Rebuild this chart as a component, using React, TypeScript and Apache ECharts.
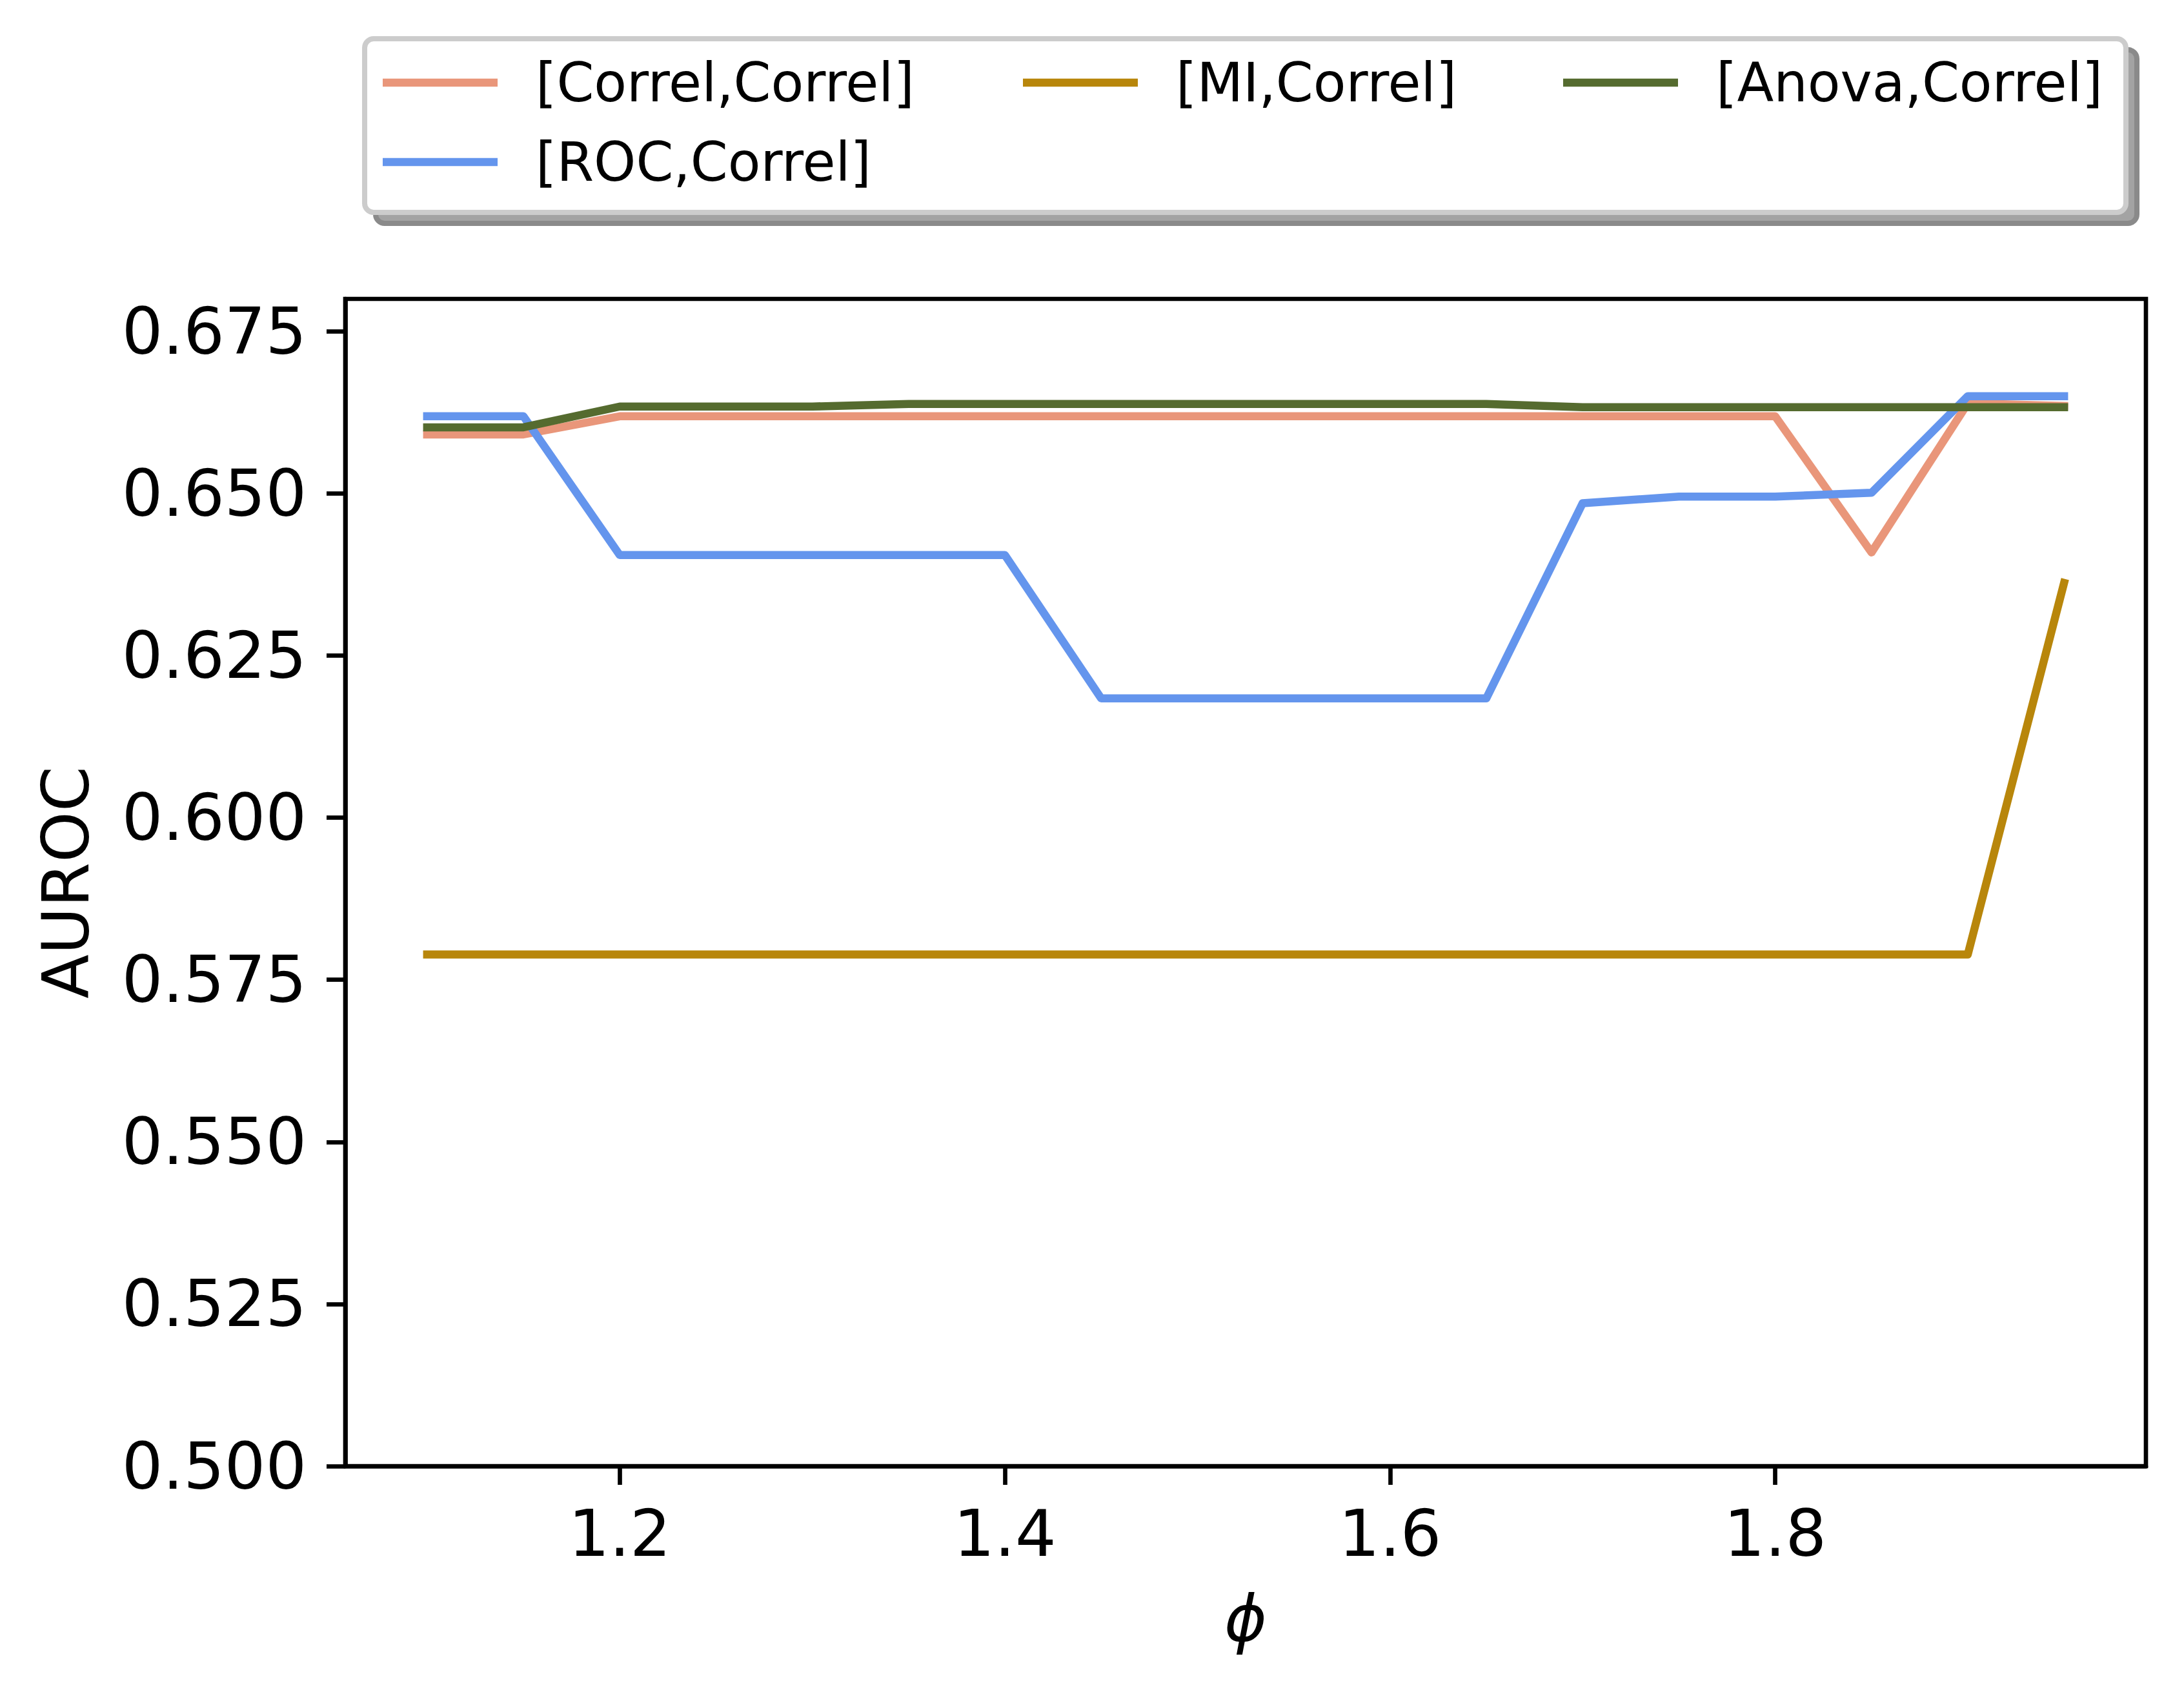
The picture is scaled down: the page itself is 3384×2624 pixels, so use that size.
import React, { useEffect, useRef } from "react";
import * as echarts from "echarts";

const PHI = [1.1, 1.15, 1.2, 1.25, 1.3, 1.35, 1.4, 1.45, 1.5, 1.55, 1.6, 1.65, 1.7, 1.75, 1.8, 1.85, 1.9, 1.95];

const SERIES_NAMES = ["[Correl,Correl]", "[ROC,Correl]", "[MI,Correl]", "[Anova,Correl]"];
const SERIES_COLORS = ["#E9967A", "#6495ED", "#B8860B", "#556B2F"];

const correlCorrel = [0.6591, 0.6591, 0.6619, 0.6619, 0.6619, 0.6619, 0.6619, 0.6619, 0.6619, 0.6619, 0.6619, 0.6619, 0.6619, 0.6619, 0.6619, 0.6409, 0.6639, 0.6635];
const rocCorrel = [0.6619, 0.6619, 0.6405, 0.6405, 0.6405, 0.6405, 0.6405, 0.6184, 0.6184, 0.6184, 0.6184, 0.6184, 0.6485, 0.6495, 0.6495, 0.6501, 0.665, 0.665];
const miCorrel = [0.5789, 0.5789, 0.5789, 0.5789, 0.5789, 0.5789, 0.5789, 0.5789, 0.5789, 0.5789, 0.5789, 0.5789, 0.5789, 0.5789, 0.5789, 0.5789, 0.5789, 0.6362];
const anovaCorrel = [0.6602, 0.6602, 0.6634, 0.6634, 0.6634, 0.6638, 0.6638, 0.6638, 0.6638, 0.6638, 0.6638, 0.6638, 0.6633, 0.6633, 0.6633, 0.6633, 0.6633, 0.6633];

const X_TICKS = [1.2, 1.4, 1.6, 1.8];
const Y_TICKS = [0.5, 0.525, 0.55, 0.575, 0.6, 0.625, 0.65, 0.675];
const X_MIN = 1.0575;
const X_MAX = 1.9925;
const Y_MIN = 0.5;
const Y_MAX = 0.68;

const X_LABEL = "ϕ";
const Y_LABEL = "AUROC";

const FONT = "DejaVu Sans";

export default function App() {
  const ref = useRef<HTMLDivElement>(null);

  useEffect(() => {
    if (!ref.current) return;
    const chart = echarts.init(ref.current, null, { renderer: "svg" });
    const values = [correlCorrel, rocCorrel, miCorrel, anovaCorrel];

    const legendPos = [
      { left: 593, top: 78 },
      { left: 593, top: 201 },
      { left: 1585, top: 78 },
      { left: 2422, top: 78 },
    ];

    const option: any = {
      animation: false,
      backgroundColor: "#ffffff",
      grid: {
        left: 535,
        right: 59,
        top: 463,
        bottom: 353,
        show: true,
        borderColor: "#000",
        borderWidth: 6.67,
        backgroundColor: "transparent",
        containLabel: false,
      },
      graphic: [
        {
          type: "rect",
          z: 1,
          silent: true,
          shape: { x: 582, y: 77, width: 2729, height: 269, r: 14 },
          style: { fill: "#a3a3a3", stroke: "#8a8a8a", lineWidth: 8 },
        },
        {
          type: "rect",
          z: 2,
          silent: true,
          shape: { x: 565, y: 60, width: 2729, height: 269, r: 14 },
          style: { fill: "#ffffff", stroke: "#cccccc", lineWidth: 8 },
        },
      ],
      legend: SERIES_NAMES.map((name, i) => ({
        data: [name],
        left: legendPos[i].left,
        top: legendPos[i].top,
        orient: "horizontal",
        padding: 0,
        z: 10,
        selectedMode: false,
        icon: "rect",
        itemWidth: 178,
        itemHeight: 12.5,
        textStyle: {
          fontFamily: FONT,
          fontSize: 83,
          color: "#000",
          lineHeight: 100,
          padding: [0, 0, 0, 54],
        },
      })),
      xAxis: {
        type: "value",
        min: X_MIN,
        max: X_MAX,
        name: X_LABEL,
        nameLocation: "middle",
        nameGap: 186,
        nameTextStyle: { fontFamily: FONT, fontSize: 100, fontStyle: "italic", color: "#000" },
        axisLine: { show: true, onZero: false, lineStyle: { color: "#000", width: 6.67 } },
        axisTick: { show: true, inside: false, length: 29, lineStyle: { color: "#000", width: 6.67 }, customValues: X_TICKS },
        axisLabel: {
          customValues: X_TICKS,
          formatter: (v: number) => v.toFixed(1),
          fontFamily: FONT,
          fontSize: 100,
          color: "#000",
          margin: 54,
        },
        splitLine: { show: false },
      },
      yAxis: {
        type: "value",
        min: Y_MIN,
        max: Y_MAX,
        name: Y_LABEL,
        nameLocation: "middle",
        nameGap: 383,
        nameTextStyle: { fontFamily: FONT, fontSize: 100, color: "#000" },
        axisLine: { show: true, onZero: false, lineStyle: { color: "#000", width: 6.67 } },
        axisTick: { show: true, inside: false, length: 29, lineStyle: { color: "#000", width: 6.67 }, customValues: Y_TICKS },
        axisLabel: {
          customValues: Y_TICKS,
          formatter: (v: number) => v.toFixed(3),
          fontFamily: FONT,
          fontSize: 100,
          color: "#000",
          margin: 60,
        },
        splitLine: { show: false },
      },
      series: SERIES_NAMES.map((name, i) => ({
        name,
        type: "line",
        showSymbol: false,
        symbol: "none",
        color: SERIES_COLORS[i],
        lineStyle: { color: SERIES_COLORS[i], width: 12.5, cap: "square", join: "round" },
        itemStyle: { color: SERIES_COLORS[i] },
        z: 3 + i,
        data: PHI.map((x, j) => [x, values[i][j]]),
      })),
    };

    chart.setOption(option);
    return () => chart.dispose();
  }, []);

  return (
    <div
      ref={ref}
      style={{ position: "fixed", left: 0, top: 0, width: 3384, height: 2624, background: "#fff" }}
    />
  );
}
